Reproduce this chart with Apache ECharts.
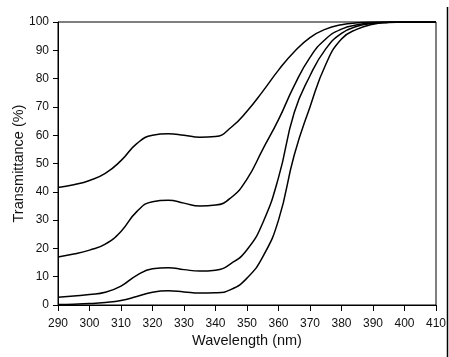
<!DOCTYPE html>
<html>
<head>
<meta charset="utf-8">
<script src="https://cdn.jsdelivr.net/npm/echarts@6/dist/echarts.min.js"></script>
<style>
  html, body { margin: 0; padding: 0; background: #fff; }
  #chart { width: 449px; height: 357px; }
</style>
</head>
<body>
<div id="chart"></div>
<script>
// wavelength (nm) sampled every 5 nm
const wavelength = [290, 295, 300, 305, 310, 315, 320, 325, 330, 335, 340, 345, 350,
  355, 360, 365, 370, 375, 380, 385, 390, 395, 400, 405, 410];

// transmittance (%) of the four curves, top to bottom
const curveA = [41.5, 42.5, 44, 46.5, 51, 57, 60, 60.5, 60, 59.3, 59.5, 62.8, 68.5,
  75.5, 83, 89.5, 94.5, 97.5, 99, 99.7, 100, 100, 100, 100, 100];
const curveB = [17, 18, 19.4, 21.5, 26, 33, 36.5, 37, 36, 35, 35.3, 38, 44.5,
  55, 65.5, 77.5, 87.5, 94, 97.5, 99, 99.7, 100, 100, 100, 100];
const curveC = [2.7, 3.2, 3.7, 4.5, 6.7, 10.5, 12.8, 13.2, 12.5, 12, 12.3, 14.7, 19.5,
  29, 45, 68, 81, 90.5, 96, 98.5, 99.5, 99.9, 100, 100, 100];
const curveD = [0.2, 0.3, 0.5, 0.9, 1.6, 3, 4.5, 5, 4.6, 4.2, 4.3, 5.5, 9.5,
  17, 30, 53, 70, 85, 94, 97.5, 99.2, 99.8, 100, 100, 100];

const xTicks = { min: 290, max: 410, step: 10 };
const yTicks = { min: 0, max: 100, step: 10 };

const font = "'Liberation Sans', Arial, sans-serif";

function pairs(values) {
  return wavelength.map((w, i) => [w, values[i]]);
}

function lineSeries(values) {
  return {
    type: "line",
    data: pairs(values),
    showSymbol: false,
    smooth: 0.5,
    lineStyle: { color: "#000", width: 1.5 },
    silent: true,
  };
}

const chart = echarts.init(document.getElementById("chart"));
chart.setOption({
  animation: false,
  backgroundColor: "#fff",
  grid: {
    left: 58, right: 13, top: 22, bottom: 52,
    outerBoundsMode: "none",
    containLabel: false,
    show: true, borderColor: "#000", borderWidth: 1,
  },
  xAxis: {
    type: "value",
    min: xTicks.min, max: xTicks.max, interval: xTicks.step,
    name: "Wavelength (nm)",
    nameLocation: "middle",
    nameGap: 28,
    nameMoveOverlap: false,
    nameTextStyle: { color: "#111", fontSize: 14.5, fontFamily: font },
    axisLine: { lineStyle: { color: "#000", width: 1 } },
    axisTick: { inside: false, length: 6, lineStyle: { color: "#000" } },
    axisLabel: { color: "#111", fontSize: 12, fontFamily: font, margin: 13 },
    splitLine: { show: false },
  },
  yAxis: {
    type: "value",
    min: yTicks.min, max: yTicks.max, interval: yTicks.step,
    name: "Transmittance (%)",
    nameLocation: "middle",
    nameGap: 32,
    nameMoveOverlap: false,
    nameRotate: 90,
    nameTextStyle: { color: "#111", fontSize: 14.5, fontFamily: font },
    axisLine: { show: true, lineStyle: { color: "#000", width: 1 } },
    axisTick: { show: true, inside: false, length: 5, lineStyle: { color: "#000" } },
    axisLabel: { color: "#111", fontSize: 12, fontFamily: font, margin: 9 },
    splitLine: { show: false },
  },
  graphic: [
    {
      type: "line",
      shape: { x1: 447.5, y1: 7, x2: 447.5, y2: 357 },
      style: { stroke: "#000", lineWidth: 1.5 },
      silent: true,
    },
  ],
  series: [lineSeries(curveA), lineSeries(curveB), lineSeries(curveC), lineSeries(curveD)],
});
</script>
</body>
</html>
